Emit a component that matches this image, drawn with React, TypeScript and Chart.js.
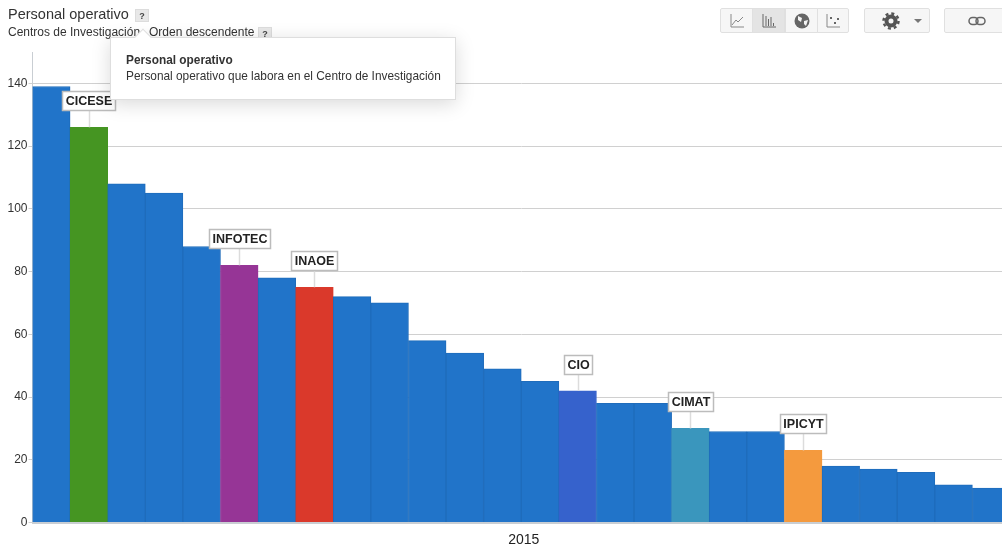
import React, { useEffect, useRef } from "react";
import { Chart, registerables } from "chart.js";

Chart.register(...registerables);

const BLUE = "#2174c9";
const centers = ["", "CICESE", "", "", "", "INFOTEC", "", "INAOE", "", "", "", "", "", "", "CIO", "", "", "CIMAT", "", "", "IPICYT", "", "", "", "", ""];
const categories = centers.map((c, i) => c || `Centro ${i + 1}`);
const personal = [139, 126, 108, 105, 88, 82, 78, 75, 72, 70, 58, 54, 49, 45, 42, 38, 38, 30, 29, 29, 23, 18, 17, 16, 12, 11];
const highlightColors: Record<string, string> = {
  CICESE: "#459522",
  INFOTEC: "#963596",
  INAOE: "#da392b",
  CIO: "#3662cc",
  CIMAT: "#3a96bd",
  IPICYT: "#f49a3e",
};
const year = "2015";
const YMAX = 150;
const FONT = "Arial, 'Liberation Sans', sans-serif";

const calloutPlugin = {
  id: "callouts",
  afterDatasetsDraw(chart: any) {
    const { ctx, scales } = chart;
    const x = scales.x;
    const y = scales.y;
    ctx.save();
    centers.forEach((name, i) => {
      if (!name) return;
      const cx = x.getPixelForValue(i);
      const top = y.getPixelForValue(personal[i]);
      ctx.font = `bold 12.5px ${FONT}`;
      const w = Math.round(ctx.measureText(name).width) + 6;
      const h = 19;
      const boxBottom = top - 17;
      const bx = Math.round(cx - w / 2) + 0.5;
      const by = Math.round(boxBottom - h) + 0.5;
      ctx.strokeStyle = "#dcdcdc";
      ctx.lineWidth = 1.5;
      ctx.beginPath();
      ctx.moveTo(Math.round(cx) + 0.5, by + h);
      ctx.lineTo(Math.round(cx) + 0.5, top);
      ctx.stroke();
      ctx.fillStyle = "#ffffff";
      ctx.strokeStyle = "#bcbcbc";
      ctx.fillRect(bx, by, w, h);
      ctx.strokeRect(bx, by, w, h);
      ctx.fillStyle = "#222222";
      ctx.textAlign = "center";
      ctx.textBaseline = "middle";
      ctx.fillText(name, bx + w / 2, by + h / 2 + 0.5);
    });
    ctx.restore();
  },
};

const yearLabelPlugin = {
  id: "yearLabel",
  afterDraw(chart: any) {
    const { ctx, chartArea } = chart;
    ctx.save();
    ctx.font = `14px ${FONT}`;
    ctx.fillStyle = "#222";
    ctx.textAlign = "center";
    ctx.textBaseline = "middle";
    ctx.fillText(year, (chartArea.left + chartArea.right) / 2 + 2.5, 540);
    ctx.restore();
  },
};

const helpBadge: React.CSSProperties = {
  position: "absolute",
  width: 14,
  height: 13,
  background: "#e8e8e8",
  border: "1px solid #dcdcdc",
  boxSizing: "border-box",
  fontSize: 9,
  fontWeight: "bold",
  color: "#444",
  textAlign: "center",
  lineHeight: "12px",
};
const btn: React.CSSProperties = {
  position: "absolute",
  top: 8,
  height: 25,
  background: "#f6f6f6",
  border: "1px solid #e0e0e0",
  borderRadius: 2,
  boxSizing: "border-box",
  display: "flex",
  alignItems: "center",
  justifyContent: "center",
};

export default function App() {
  const ref = useRef<HTMLCanvasElement>(null);
  useEffect(() => {
    const chart = new Chart(ref.current!, {
      type: "bar",
      data: {
        labels: categories,
        datasets: [
          {
            label: "Personal operativo",
            data: personal,
            backgroundColor: centers.map((c) => highlightColors[c] || BLUE),
            borderColor: centers.map((c) => highlightColors[c] || "#1f6cbb"),
            borderWidth: 1,
            barPercentage: 1,
            categoryPercentage: 1,
          },
        ],
      },
      plugins: [calloutPlugin, yearLabelPlugin],
      options: {
        animation: false,
        responsive: false,
        layout: { padding: { left: 0, right: 0, top: 52, bottom: 0 } },
        plugins: { legend: { display: false }, tooltip: { enabled: false } },
        scales: {
          x: {
            afterFit(s: any) {
              s.height = 26.5;
            },
            grid: { display: false },
            border: { color: "#c9ced3", width: 2 },
            ticks: { display: false },
          },
          y: {
            min: 0,
            max: YMAX,
            afterFit(s: any) {
              s.width = 32.5;
            },
            grid: { color: "#d0d0d0", tickColor: "#d0d0d0", tickLength: 4 },
            border: { color: "#c9ced3", width: 1 },
            ticks: {
              stepSize: 20,
              includeBounds: false,
              color: "#333",
              padding: 1,
              font: { family: FONT, size: 12 },
            },
          },
        },
      },
    });
    return () => chart.destroy();
  }, []);

  const icon = { stroke: "#888", fill: "none", strokeWidth: 1 };
  return (
    <div style={{ position: "absolute", left: 0, top: 0, width: 1002, height: 549, overflow: "hidden", background: "#fff", fontFamily: FONT }}>
      <canvas ref={ref} width={1010} height={549} style={{ position: "absolute", left: 0, top: 0 }} />
      <div style={{ position: "absolute", left: 8, top: 6, fontSize: 14.5, color: "#333", whiteSpace: "nowrap" }}>Personal operativo</div>
      <div style={{ ...helpBadge, left: 135, top: 9 }}>?</div>
      <div style={{ position: "absolute", left: 8, top: 25, fontSize: 12, color: "#333", whiteSpace: "nowrap" }}>Centros de Investigación</div>
      <div style={{ position: "absolute", left: 149, top: 25, fontSize: 12, color: "#333", whiteSpace: "nowrap" }}>Orden descendente</div>
      <div style={{ ...helpBadge, left: 258, top: 27 }}>?</div>

      <div style={{ position: "absolute", left: 110, top: 37, width: 346, height: 63, background: "#fff", border: "1px solid #dedede", boxSizing: "border-box", boxShadow: "0 4px 18px rgba(0,0,0,0.15)", padding: "14px 15px", fontSize: 11.85, lineHeight: "16px", color: "#333", whiteSpace: "nowrap" }}>
        <div style={{ fontWeight: "bold" }}>Personal operativo</div>
        <div>Personal operativo que labora en el Centro de Investigación</div>
      </div>
      <div style={{ position: "absolute", left: 137, top: 31, width: 12, height: 12, background: "#fff", borderLeft: "1px solid #dedede", borderTop: "1px solid #dedede", boxSizing: "border-box", transform: "rotate(45deg)" }} />

      <div style={{ ...btn, left: 720, width: 33, borderRadius: "2px 0 0 2px" }}>
        <svg width="16" height="16"><path d="M2 1V14H15M3 12L7 7L9 9L14 4" {...icon} /></svg>
      </div>
      <div style={{ ...btn, left: 752, width: 33, background: "#e4e4e4", borderRadius: 0 }}>
        <svg width="16" height="16"><path d="M2 1V14H15M5 13V3M7.500 13V6M10 13V4M12.500 13V10" {...icon} stroke="#666" /></svg>
      </div>
      <div style={{ ...btn, left: 785, width: 33, borderRadius: 0 }}>
        <svg width="18" height="18"><circle cx="9" cy="9" r="7.500" fill="#666" /><path d="M5 4L9 6L8 10L5 8ZM11 9L15 8L13 14L11 12Z" fill="#f5f5f5" /></svg>
      </div>
      <div style={{ ...btn, left: 817, width: 32, borderRadius: "0 2px 2px 0" }}>
        <svg width="16" height="16"><path d="M2 1V14H15" {...icon} /><rect x="5" y="4" width="2" height="2" fill="#666" /><rect x="9" y="9" width="2" height="2" fill="#666" /><rect x="12" y="5" width="2" height="2" fill="#666" /></svg>
      </div>
      <div style={{ ...btn, left: 864, width: 66 }}>
        <svg width="18" height="18" style={{ marginLeft: 10, marginRight: 14 }}><circle cx="9" cy="9" r="4.500" fill="none" stroke="#555" strokeWidth="4" /><circle cx="9" cy="9" r="7.500" fill="none" stroke="#555" strokeWidth="2.500" strokeDasharray="3 2.900" /></svg>
        <svg width="8" height="4"><path d="M0 0H8L4 4Z" fill="#777" /></svg>
      </div>
      <div style={{ ...btn, left: 944, width: 66 }}>
        <svg width="18" height="10"><rect x="1" y="1.500" width="9" height="7" rx="3.500" fill="none" stroke="#666" strokeWidth="1.500" /><rect x="8" y="1.500" width="9" height="7" rx="3.500" fill="none" stroke="#666" strokeWidth="1.500" /></svg>
      </div>
    </div>
  );
}
